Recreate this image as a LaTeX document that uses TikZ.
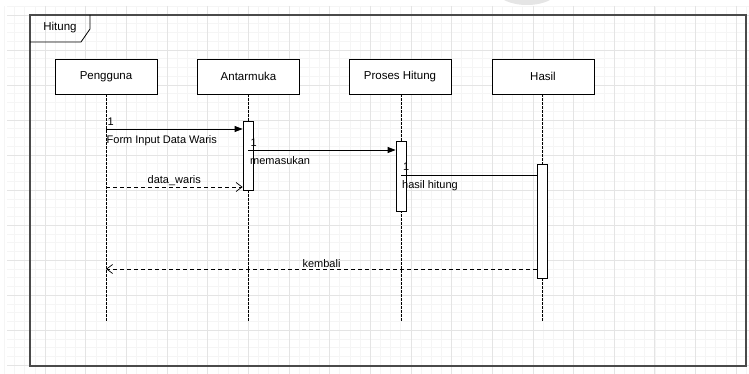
\documentclass[tikz,border=0pt]{standalone}
\usepackage{fontspec}
\setmainfont{Liberation Sans}
\usetikzlibrary{arrows.meta,positioning,calc}
\definecolor{gridminor}{HTML}{F5F5F5}
\definecolor{gridmajor}{HTML}{E4E4E4}
\definecolor{framegray}{HTML}{4A4A4A}

\begin{document}
\begin{tikzpicture}[x=1pt, y=-1pt,
    actor/.style={draw, line width=0.8pt, fill=white, minimum width=102pt, minimum height=35pt, inner sep=0pt, font=\fontsize{11.5}{13}\selectfont},
    actbar/.style={draw, line width=0.8pt, fill=white, minimum width=10pt, inner sep=0pt},
    life/.style={line width=0.7pt, dash pattern=on 2.5pt off 1.5pt},
    msg/.style={line width=0.8pt, -{Triangle[length=8pt, width=6pt]}},
    plainmsg/.style={line width=0.8pt},
    retmsg/.style={line width=0.7pt, dash pattern=on 4pt off 3pt, -{Straight Barb[length=6pt, width=9pt]}},
    lbl/.style={font=\fontsize{11}{13}\selectfont, inner sep=0pt, anchor=west},
    mid/.style={font=\fontsize{11}{13}\selectfont, inner sep=1pt}
]
\useasboundingbox (0,0) rectangle (749,374);
% background grid
\foreach \i in {0,...,73} \draw[gridminor, line width=0.5pt] ({4.35+\i*10.1625},6) -- ({4.35+\i*10.1625},374);
\foreach \j in {0,...,42} \draw[gridminor, line width=0.5pt] (7,{6.25+\j*8.75}) -- (749,{6.25+\j*8.75});
\foreach \i in {1,...,18} \draw[gridmajor, line width=0.6pt] ({4.35+\i*40.65},6) -- ({4.35+\i*40.65},374);
\foreach \j in {0,...,10} \draw[gridmajor, line width=0.6pt] (7,{15+\j*35}) -- (749,{15+\j*35});
\fill[gray!20] (527,-9) ellipse (30 and 14);

% frame
\draw[framegray, line width=1.1pt] (30,15) rectangle (746,366);
\draw[black, line width=0.8pt] (30,42) -- (81,42) -- (90,29) -- (90,15);
\node[font=\fontsize{11.5}{13}\selectfont] (title) at (60,28) {Hitung};

% participants
\node[actor] (peng) at (106,76.5) {Pengguna};
\node[actor] (antar) at (248.5,76.5) {Antarmuka};
\node[actor] (proses) at (400,76.5) {Proses Hitung};
\node[actor] (hasil) at (543,76.5) {Hasil};

\coordinate (peng-end) at (106,322);
\coordinate (antar-end) at (248,322);
\coordinate (proses-end) at (401,322);
\coordinate (hasil-end) at (542.5,322);

\draw[life] (peng.south |- peng.south) -- (peng-end);
\draw[life] (antar-end |- antar.south) -- (antar-end);
\draw[life] (proses-end |- proses.south) -- (proses-end);
\draw[life] (hasil-end |- hasil.south) -- (hasil-end);

% activations
\node[actbar, minimum height=69pt] (act1) at (248,155.5) {};
\node[actbar, minimum height=70pt] (act2) at (401,176) {};
\node[actbar, minimum height=114pt] (act3) at (542.5,221) {};

% messages
\coordinate (m1) at (106,129);
\coordinate (m2) at (248,150);
\coordinate (m3) at (401,175);
\coordinate (m4) at (106,187);
\coordinate (m5) at (106,269);

\draw[msg] (m1) -- (m1 -| act1.west);
\node[lbl] (n1) at (107.5,122) {1};
\node[lbl] (form) at (106.5,141) {Form Input Data Waris};

\draw[msg] (m2) -- (m2 -| act2.west);
\node[lbl] (n2) at (250.5,143) {1};
\node[lbl] (masuk) at (250,161) {memasukan};

\draw[plainmsg] (m3) -- (m3 -| act3.west);
\node[lbl] (n3) at (403,167) {1};
\node[lbl] (hsl) at (402,186) {hasil hitung};

\draw[retmsg] (m4) -- node[mid, above] {data\_waris} (m4 -| act1.west);
\draw[retmsg] (m5 -| act3.west) -- node[mid, above] {kembali} (m5);
\end{tikzpicture}
\end{document}
